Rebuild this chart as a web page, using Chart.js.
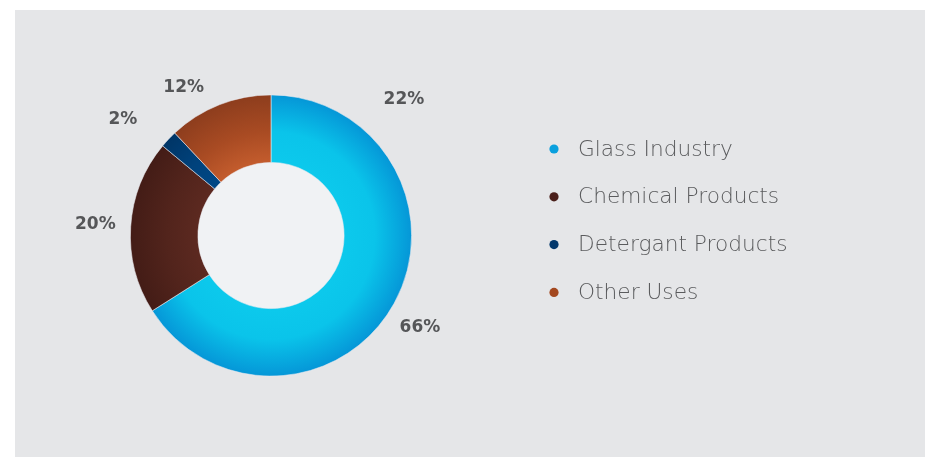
<!DOCTYPE html>
<html>
<head>
<meta charset="utf-8">
<script src="https://cdn.jsdelivr.net/npm/chart.js@4/dist/chart.umd.min.js"></script>
<style>
  html, body { margin: 0; padding: 0; background: #ffffff; }
  #panel { position: absolute; left: 15px; top: 10px; width: 910px; height: 447px; background: #e5e6e8; }
  canvas { display: block; }
</style>
</head>
<body>
<div id="panel"><canvas id="c" width="910" height="447"></canvas></div>
<script>
// ---- data ----
const categories = ["Glass Industry", "Chemical Products", "Detergant Products", "Other Uses"];
const shares = [66, 20, 2, 12];
const shareLabels = ["66%", "20%", "2%", "12%"];
const extraLabel = "22%";

// ---- styles ----
const legendColors = ["#0aa0de", "#4a1f1a", "#02376b", "#a3481f"];
const gradStops = [
  ["#0cc9ec", "#0ac4ea", "#0596d7"],
  ["#5c2920", "#52241c", "#431c16"],
  ["#004785", "#00427c", "#003566"],
  ["#c35c2d", "#a94b23", "#8d3d1d"]
];
const CUT = 0.52;

function geom(chart) {
  const a = chart.chartArea;
  const cx = (a.left + a.right) / 2, cy = (a.top + a.bottom) / 2;
  const R = Math.min(a.right - a.left, a.bottom - a.top) / 2;
  return { cx, cy, R, r: R * CUT };
}

function segFill(ctx) {
  const chart = ctx.chart;
  if (!chart.chartArea) return legendColors[ctx.dataIndex];
  const g = geom(chart);
  const s = gradStops[ctx.dataIndex];
  const grad = chart.ctx.createRadialGradient(g.cx, g.cy, g.r, g.cx, g.cy, g.R);
  grad.addColorStop(0, s[0]);
  grad.addColorStop(0.45, s[1]);
  grad.addColorStop(1, s[2]);
  return grad;
}

// label placement (angle clockwise from 12 o'clock in degrees, distance from centre in px)
const labelPlacement = [
  { a: 121.7, d: 175 },
  { a: 273.6, d: 176 },
  { a: 308.0, d: 188 },
  { a: 329.5, d: 172 }
];
const extraPlacement = { a: 44.4, d: 190 };

const holePlugin = {
  id: 'hole',
  beforeDatasetsDraw(chart) {
    const g = geom(chart);
    const c = chart.ctx;
    c.save();
    c.beginPath();
    c.arc(g.cx, g.cy, g.r, 0, Math.PI * 2);
    c.fillStyle = '#f0f2f4';
    c.fill();
    c.restore();
  }
};

const labelsPlugin = {
  id: 'pctLabels',
  afterDatasetsDraw(chart) {
    const g = geom(chart);
    const c = chart.ctx;
    c.save();
    c.font = 'bold 17px "DejaVu Sans"';
    c.fillStyle = '#555658';
    c.textAlign = 'center';
    c.textBaseline = 'middle';
    const put = (txt, p) => {
      const t = p.a * Math.PI / 180;
      c.fillText(txt, g.cx + p.d * Math.sin(t), g.cy - p.d * Math.cos(t));
    };
    shareLabels.forEach((t, i) => put(t, labelPlacement[i]));
    put(extraLabel, extraPlacement);
    c.restore();
  }
};

const legendPlugin = {
  id: 'sideLegend',
  afterDraw(chart) {
    const c = chart.ctx;
    c.save();
    c.font = '200 21.7px "DejaVu Sans"';
    c.textBaseline = 'middle';
    c.textAlign = 'left';
    chart.data.labels.forEach((lab, i) => {
      const y = 139 + i * 47.8;
      c.beginPath();
      c.arc(539, y, 4.6, 0, Math.PI * 2);
      c.fillStyle = legendColors[i];
      c.fill();
      c.fillStyle = '#5a5b5d';
      c.fillText(lab, 563, y + 1);
    });
    c.restore();
  }
};

new Chart(document.getElementById('c'), {
  type: 'doughnut',
  data: {
    labels: categories,
    datasets: [{
      data: shares,
      backgroundColor: segFill,
      borderColor: 'rgba(235,236,240,0.7)',
      borderWidth: 0.8,
      hoverOffset: 0
    }]
  },
  options: {
    responsive: false,
    animation: false,
    cutout: '52%',
    layout: { padding: { left: 115, right: 513, top: 84.5, bottom: 80.5 } },
    plugins: {
      legend: { display: false },
      tooltip: { enabled: false }
    }
  },
  plugins: [holePlugin, labelsPlugin, legendPlugin]
});
</script>
</body>
</html>
